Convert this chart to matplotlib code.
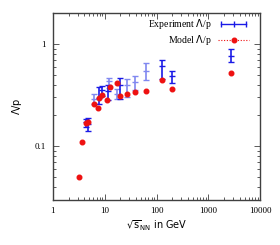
import matplotlib
matplotlib.use('Agg')
import matplotlib.pyplot as plt
from matplotlib.lines import Line2D
from matplotlib.legend_handler import HandlerLine2D
from matplotlib.ticker import LogLocator, FixedLocator, NullFormatter

# model points
mod_x = [3.2, 3.7, 4.3, 4.8, 6.2, 7.5, 7.6, 8.7, 11.3, 12.4, 16.9, 19.3, 27.2, 38.7, 62.3, 130, 200, 2800]
mod_y = [0.0506, 0.109, 0.169, 0.172, 0.261, 0.237, 0.294, 0.315, 0.282, 0.383, 0.413, 0.313, 0.325, 0.337, 0.347, 0.442, 0.36, 0.525]

# experiment (dark points)
exp_x = [4.3, 4.7, 7.6, 8.8, 11.5, 19.6, 130, 200, 2760]
exp_y = [0.172, 0.166, 0.294, 0.355, 0.35, 0.397, 0.605, 0.483, 0.764]
exp_lo = [0.156, 0.141, 0.259, 0.313, 0.284, 0.288, 0.458, 0.413, 0.662]
exp_hi = [0.185, 0.188, 0.383, 0.388, 0.397, 0.462, 0.697, 0.549, 0.887]

# experiment (light points)
exl_x = [6.2, 12.3, 17.3, 27, 39, 62.4]
exl_y = [0.292, 0.435, 0.322, 0.395, 0.425, 0.549]
exl_lo = [0.259, 0.37, 0.288, 0.306, 0.355, 0.442]
exl_hi = [0.322, 0.469, 0.36, 0.458, 0.49, 0.657]

plt.rcParams['mathtext.fontset'] = 'dejavusans'

fig = plt.figure(figsize=(2.8, 2.45), dpi=100)
ax = fig.add_axes([0.189, 0.184, 0.74, 0.763])

def err(y, lo, hi):
    return [[a - b for a, b in zip(y, lo)], [b - a for a, b in zip(y, hi)]]

ax.errorbar(exl_x, exl_y, yerr=err(exl_y, exl_lo, exl_hi), fmt='_', color='#8088f0',
            ms=4, capsize=2, elinewidth=1.2, capthick=1.0, zorder=2)
ax.errorbar(exp_x, exp_y, yerr=err(exp_y, exp_lo, exp_hi), fmt='_', color='#1a1ae6',
            ms=4, capsize=2, elinewidth=1.2, capthick=1.0, zorder=3)
ax.plot(mod_x, mod_y, 'o', color='#ee1111', ms=3.3, ls='none', zorder=4)

# legend handles like gnuplot keys
h1 = Line2D([], [], color='#1a1ae6', lw=1.0, marker='|', ms=4, mew=1.0)
h2 = Line2D([], [], color='#ee1111', lw=0.8, ls=(0, (1, 1.5)), marker='o', ms=3.3)

ax.set_xscale('log')
ax.set_yscale('log')
ax.set_xlim(1, 10000)
ax.set_ylim(0.03, 2.0)

ax.xaxis.set_major_locator(FixedLocator([1, 10, 100, 1000, 10000]))
ax.set_xticklabels(['1', '10', '100', '1000', '10000'])
ax.xaxis.set_minor_locator(LogLocator(base=10, subs=range(2, 10)))
ax.xaxis.set_minor_formatter(NullFormatter())
ax.yaxis.set_major_locator(FixedLocator([0.1, 1]))
ax.set_yticklabels(['0.1', '1'])
ax.yaxis.set_minor_locator(LogLocator(base=10, subs=range(2, 10)))
ax.yaxis.set_minor_formatter(NullFormatter())

ax.tick_params(which='both', direction='in', top=True, right=True, color='#404040')
ax.tick_params(which='major', length=4, width=0.6, labelsize=6.5, pad=5)
ax.tick_params(which='minor', length=2, width=0.6)
for lab in ax.get_xticklabels() + ax.get_yticklabels():
    lab.set_family('Liberation Serif')
for s in ax.spines.values():
    s.set_color('#404040')
    s.set_linewidth(1.0)

ax.set_xlabel(r'$\sqrt{\mathrm{s}}_{\mathrm{NN}}$ in GeV', fontsize=7, family='DejaVu Sans', labelpad=3)
ax.set_ylabel('$\\Lambda$/p', fontsize=7, family='DejaVu Sans', labelpad=8)

leg = fig.legend(handles=[h1, h2], labels=['Experiment $\\Lambda$/p', 'Model $\\Lambda$/p'],
                 loc='upper right', bbox_to_anchor=(0.89, 0.93), frameon=False, markerfirst=False,
                 handler_map={h1: HandlerLine2D(numpoints=3), h2: HandlerLine2D(numpoints=1)},
                 prop={'family': 'Liberation Serif', 'size': 7}, handlelength=3.2,
                 borderaxespad=0, borderpad=0, labelspacing=0.2, handletextpad=0.6)

fig.savefig('out.png', dpi=100)
